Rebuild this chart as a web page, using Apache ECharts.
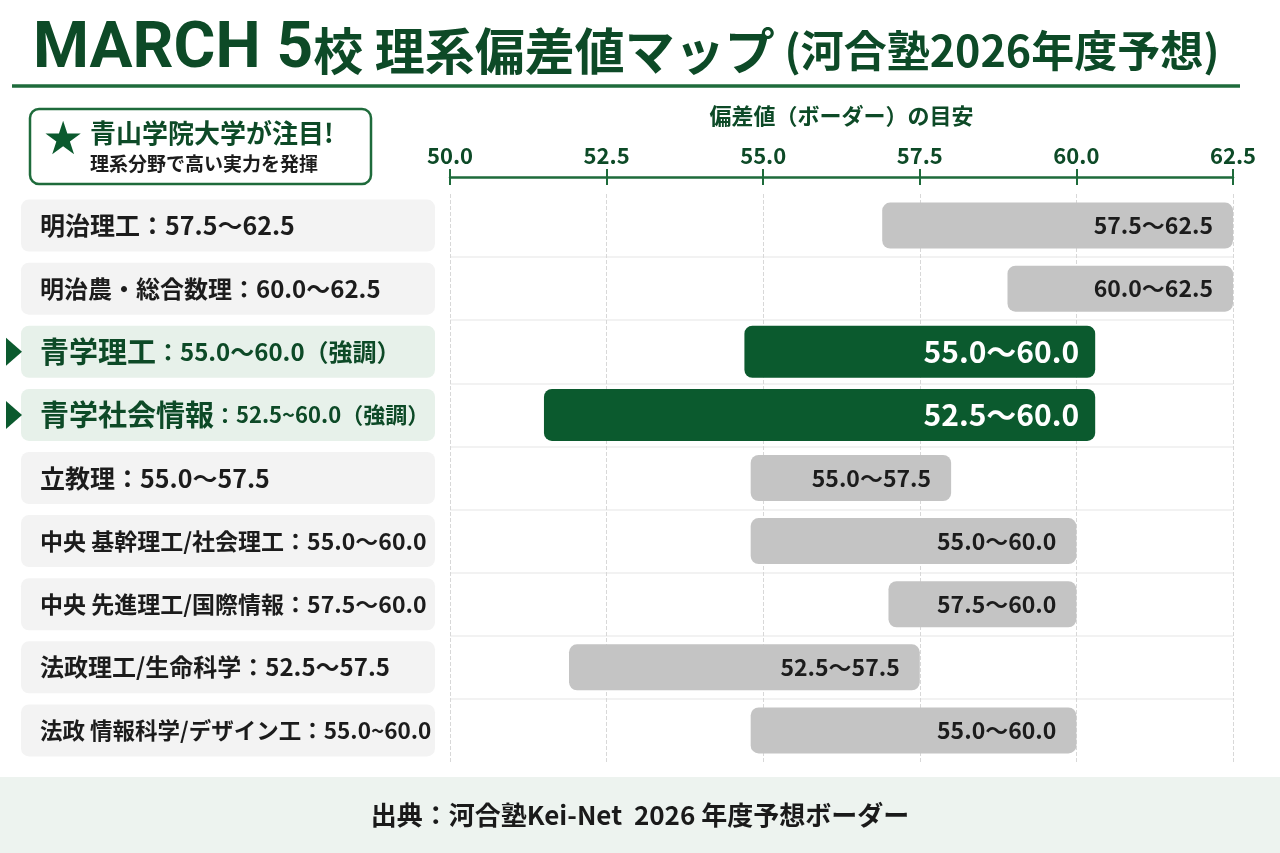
<!DOCTYPE html>
<html>
<head>
<meta charset="utf-8">
<script src="https://cdn.jsdelivr.net/npm/echarts@6/dist/echarts.min.js"></script>
<style>
html, body { margin: 0; padding: 0; background: #fff; }
#container { width: 1280px; height: 853px; }
</style>
</head>
<body>
<div id="container"></div>
<script>
// 学部ごとのデータ (上から順に)
var names = ['明治理工', '明治農・総合数理', '青学理工', '青学社会情報', '立教理',
  '中央 基幹理工/社会理工', '中央 先進理工/国際情報', '法政理工/生命科学', '法政 情報科学/デザイン工'];
var rangeText = ['57.5～62.5', '60.0～62.5', '55.0～60.0', '52.5~60.0', '55.0～57.5',
  '55.0～60.0', '57.5～60.0', '52.5～57.5', '55.0~60.0'];
var barText = ['57.5～62.5', '60.0～62.5', '55.0～60.0', '52.5～60.0', '55.0～57.5',
  '55.0～60.0', '57.5～60.0', '52.5～57.5', '55.0～60.0'];
// 図の上で描かれているバーの両端
var barLow = [56.9, 58.9, 54.7, 51.5, 54.8, 54.8, 57.0, 51.9, 54.8];
var barHigh = [62.5, 62.5, 60.3, 60.3, 58.0, 60.0, 60.0, 57.5, 60.0];
var highlight = [0, 0, 1, 1, 0, 0, 0, 0, 0];
var axisMin = 50, axisMax = 62.5, axisStep = 2.5;

var FONT = '"Noto Sans CJK JP", "Noto Sans", sans-serif';
var GREEN_DARK = '#0d4a27';
var GREEN = '#0b5a2e';
var LINE_GREEN = '#1e6b3b';
// 左ラベルの文字サイズ (枠に収まるよう行ごとに調整)
var labelSize = [25, 24, 24, 22, 25, 23, 23, 24, 22.5];

var myChart = echarts.init(document.getElementById('container'));

var rows = [];
for (var i = 0; i < names.length; i++) {
  rows.push([i, barLow[i], barHigh[i]]);
}

function renderRow(params, api) {
  var idx = api.value(0);
  var p0 = api.coord([api.value(1), idx]);
  var p1 = api.coord([api.value(2), idx]);
  var cy = p0[1];
  var hl = highlight[idx];
  var barH = hl ? 52 : 46;
  var kids = [];

  // 左のラベル枠
  kids.push({
    type: 'rect',
    shape: { x: 21, y: cy - 26, width: 414, height: 52, r: 8 },
    style: { fill: hl ? '#e7f1ea' : '#f3f3f3' }
  });
  if (hl) {
    kids.push({
      type: 'polygon',
      shape: { points: [[6, cy - 14], [22, cy], [6, cy + 14]] },
      style: { fill: GREEN }
    });
    kids.push({
      type: 'text', x: 40, y: cy,
      style: {
        text: '{n|' + names[idx] + '}{r|：' + rangeText[idx] + '（強調）}',
        verticalAlign: 'middle', align: 'left',
        rich: {
          n: { fontSize: 29, fontWeight: 'bold', fontFamily: FONT, fill: GREEN_DARK },
          r: { fontSize: labelSize[idx], fontWeight: 'bold', fontFamily: FONT, fill: GREEN_DARK }
        }
      }
    });
  } else {
    kids.push({
      type: 'text', x: 40, y: cy,
      style: {
        text: names[idx] + '：' + rangeText[idx],
        verticalAlign: 'middle', align: 'left',
        fontSize: labelSize[idx], fontWeight: 'bold', fontFamily: FONT, fill: '#1c1c1c'
      }
    });
  }

  // バー本体
  kids.push({
    type: 'rect',
    shape: { x: p0[0], y: cy - barH / 2, width: p1[0] - p0[0], height: barH, r: 8 },
    style: { fill: hl ? GREEN : '#c4c4c4' }
  });
  kids.push({
    type: 'text', x: p1[0] - (hl ? 16 : 20), y: cy,
    style: {
      text: barText[idx],
      align: 'right', verticalAlign: 'middle',
      fontSize: hl ? 30 : 23, fontWeight: 'bold', fontFamily: FONT,
      fill: hl ? '#ffffff' : '#1c1c1c'
    }
  });
  return { type: 'group', children: kids };
}

option = {
  animation: false,
  backgroundColor: '#ffffff',
  title: {
    left: 28, top: 14,
    text: '{a|MARCH 5}{b|校 理系偏差値マップ}{c| (河合塾2026年度予想)}',
    textStyle: {
      rich: {
        a: { fontSize: 64, fontWeight: 'bold', fontFamily: 'Roboto, sans-serif', color: GREEN_DARK },
        b: { fontSize: 50, fontWeight: 'bold', fontFamily: FONT, color: GREEN_DARK },
        c: { fontSize: 43, fontWeight: 'bold', fontFamily: FONT, color: GREEN_DARK }
      }
    }
  },
  grid: { left: 450, right: 47, top: 194, bottom: 91 },
  xAxis: [{
    type: 'value', position: 'top', offset: 17,
    min: axisMin, max: axisMax, interval: axisStep,
    name: '偏差値（ボーダー）の目安',
    nameLocation: 'middle', nameGap: 50,
    nameTextStyle: { color: GREEN_DARK, fontSize: 22, fontWeight: 'bold', fontFamily: FONT },
    axisLine: { show: true, lineStyle: { color: LINE_GREEN, width: 2.5 } },
    axisTick: { show: true, length: 8, lineStyle: { color: LINE_GREEN, width: 2 } },
    axisLabel: {
      color: GREEN_DARK, fontSize: 22, fontWeight: 'bold', fontFamily: FONT, margin: 10,
      formatter: function (v) { return v.toFixed(1); }
    },
    splitLine: { show: true, lineStyle: { color: '#d8d8d8', type: 'dashed', width: 1 } }
  }, {
    // 軸線の下側に出る目盛り
    type: 'value', position: 'top', offset: 17,
    min: axisMin, max: axisMax, interval: axisStep,
    axisLine: { show: false },
    axisTick: { show: true, inside: true, length: 8, lineStyle: { color: LINE_GREEN, width: 2 } },
    axisLabel: { show: false },
    splitLine: { show: false }
  }],
  yAxis: {
    type: 'category', data: names, inverse: true,
    axisLine: { show: false }, axisTick: { show: false }, axisLabel: { show: false },
    splitLine: { show: true, showMinLine: false, showMaxLine: false, lineStyle: { color: '#eeeeee', width: 1.5 } }
  },
  series: [{
    type: 'custom',
    clip: false,
    renderItem: renderRow,
    encode: { x: [1, 2], y: 0 },
    data: rows
  }],
  graphic: [
    { type: 'line', shape: { x1: 12, y1: 86, x2: 1240, y2: 86 }, style: { stroke: LINE_GREEN, lineWidth: 3.5 } },
    { type: 'rect', shape: { x: 30, y: 109, width: 341, height: 75, r: 9 },
      style: { fill: '#ffffff', stroke: LINE_GREEN, lineWidth: 2.5 } },
    { type: 'text', x: 63, y: 142,
      style: { text: '★', align: 'center', verticalAlign: 'middle', fontSize: 46, fontFamily: '"DejaVu Sans", sans-serif', fill: GREEN } },
    { type: 'text', x: 90, y: 133,
      style: { text: '青山学院大学が注目!', verticalAlign: 'middle', fontSize: 26, fontWeight: 'bold', fontFamily: FONT, fill: GREEN_DARK } },
    { type: 'text', x: 90, y: 164,
      style: { text: '理系分野で高い実力を発揮', verticalAlign: 'middle', fontSize: 19, fontWeight: 'bold', fontFamily: FONT, fill: '#1c1c1c' } },
    { type: 'rect', shape: { x: 0, y: 777, width: 1280, height: 76 }, style: { fill: '#edf3ef' } },
    { type: 'text', x: 640, y: 815,
      style: { text: '出典：河合塾Kei-Net  2026 年度予想ボーダー', align: 'center', verticalAlign: 'middle',
        fontSize: 26, fontWeight: 'bold', fontFamily: FONT, fill: '#1a1a1a' } }
  ]
};
myChart.setOption(option);
</script>
</body>
</html>
